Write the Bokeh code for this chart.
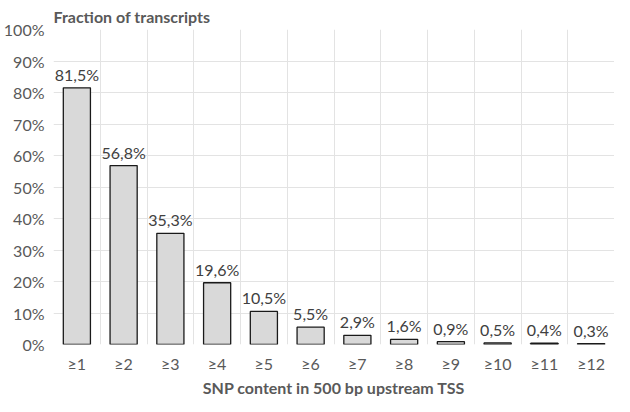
from bokeh.plotting import figure
from bokeh.models import ColumnDataSource, FixedTicker, LabelSet, Title, PrintfTickFormatter, Range1d
from bokeh.core.properties import value
from bokeh.embed import file_html
from bokeh.resources import INLINE

categories = ["≥1", "≥2", "≥3", "≥4", "≥5", "≥6", "≥7", "≥8", "≥9", "≥10", "≥11", "≥12"]
values = [81.5, 56.8, 35.3, 19.6, 10.5, 5.5, 2.9, 1.6, 0.9, 0.5, 0.4, 0.3]
value_labels = ["81,5%", "56,8%", "35,3%", "19,6%", "10,5%", "5,5%", "2,9%", "1,6%", "0,9%", "0,5%", "0,4%", "0,3%"]
y_ticks = [0, 10, 20, 30, 40, 50, 60, 70, 80, 90, 100]
x_title = "SNP content in 500 bp upstream TSS"

xs = list(range(1, len(categories) + 1))
src = ColumnDataSource(dict(x=xs, top=values, label=value_labels))

FONT = "Lato"
GRAY = "#595959"
FS = "16px"

p = figure(width=614, height=396, output_backend="svg", toolbar_location=None,
           x_range=Range1d(0.5, len(categories) + 0.5), y_range=Range1d(0, 100),
           min_border=0, min_border_left=47, min_border_right=0, min_border_top=21, min_border_bottom=0,
           title="Fraction of transcripts")
p.outline_line_color = None
p.background_fill_color = "white"
p.border_fill_color = "white"

p.title.text_font = FONT
p.title.text_font_size = FS
p.title.text_font_style = "bold"
p.title.text_color = GRAY
p.title.align = "left"
p.title.standoff = 8

p.vbar(x="x", top="top", width=0.58, source=src, fill_color="#d9d9d9",
       line_color="#1a1a1a", line_width=1.3)

labels = LabelSet(x="x", y="top", text="label", source=src, y_offset=7,
                  text_align="center", text_baseline="alphabetic",
                  text_font=value(FONT), text_font_size=value(FS), text_color="#404040")
p.add_layout(labels)

xtitle = Title(text=x_title, align="center", offset=-24, standoff=0,
               text_font=FONT, text_font_size=FS, text_font_style="bold",
               text_color=GRAY)
p.add_layout(xtitle, "below")

for ax in (p.xaxis[0], p.yaxis[0]):
    ax.axis_line_color = None
    ax.major_tick_line_color = None
    ax.minor_tick_line_color = None
    ax.major_tick_out = 0
    ax.major_tick_in = 0
    ax.minor_tick_out = 0
    ax.minor_tick_in = 0
    ax.major_label_text_font = FONT
    ax.major_label_text_font_size = FS
    ax.major_label_text_color = GRAY

p.xaxis.ticker = FixedTicker(ticks=xs)
p.xaxis.major_label_overrides = {x: c for x, c in zip(xs, categories)}
p.xaxis.major_label_standoff = 9

p.yaxis.ticker = FixedTicker(ticks=y_ticks)
p.yaxis.formatter = PrintfTickFormatter(format="%d%%")
p.yaxis.major_label_standoff = 9

p.xgrid.ticker = FixedTicker(ticks=[x + 0.5 for x in [0] + xs])
p.xgrid.grid_line_color = "#e3e3e3"
p.ygrid.grid_line_color = "#e3e3e3"

open("out.html", "w").write(file_html(p, INLINE))
